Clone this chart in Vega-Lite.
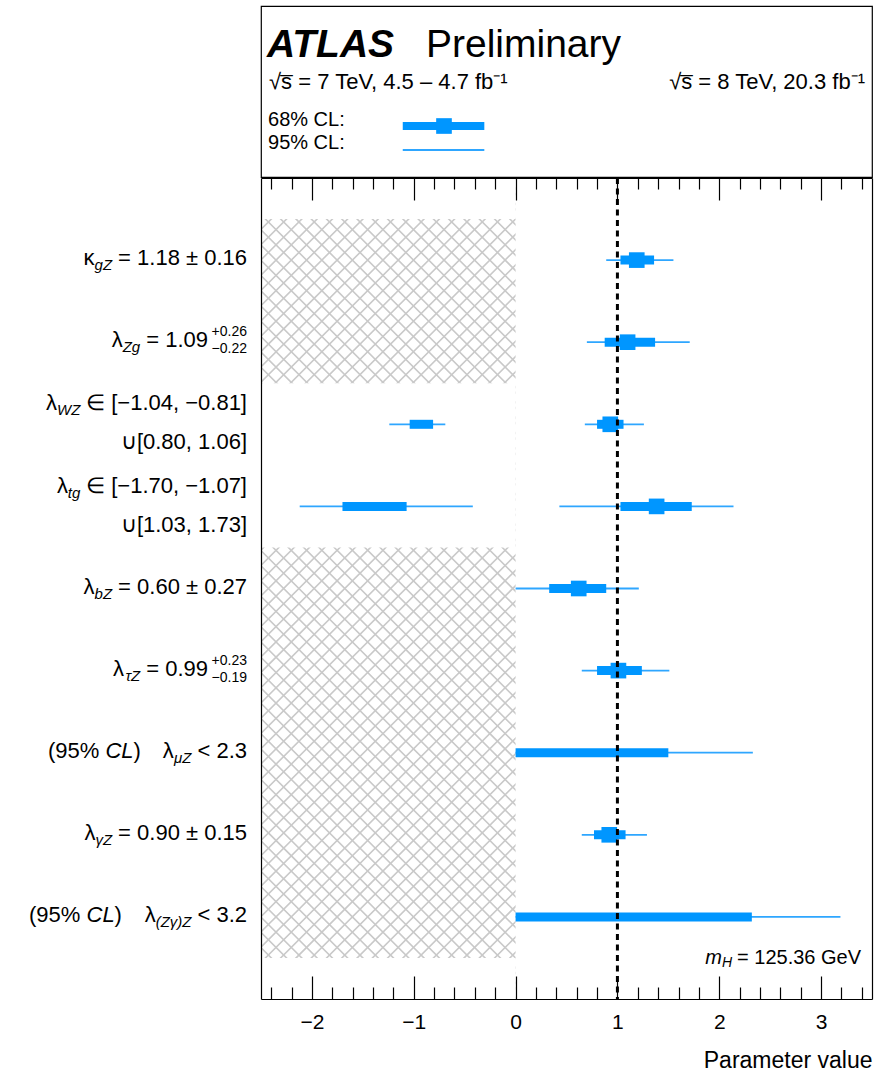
{
  "$schema": "https://vega.github.io/schema/vega-lite/v6.json",
  "autosize": {"type": "pad"},
  "padding": {"left": 28, "top": 5, "right": 2, "bottom": 2},
  "background": "white",
  "spacing": -4,
  "config": {
    "view": {"stroke": null},
    "font": "Liberation Sans",
    "text": {"font": "Liberation Sans", "color": "black"},
    "axis": {"labelFont": "Liberation Sans", "titleFont": "Liberation Sans", "grid": false}
  },
  "datasets": {
    "bars": [
      {"row": 1, "lo95": 0.89, "hi95": 1.55, "lo68": 1.03, "hi68": 1.36, "best": 1.19},
      {"row": 2, "lo95": 0.70, "hi95": 1.71, "lo68": 0.875, "hi68": 1.37, "best": 1.10},
      {"row": 3, "lo95": -1.24, "hi95": -0.69, "lo68": -1.04, "hi68": -0.81, "best": null},
      {"row": 3, "lo95": 0.68, "hi95": 1.26, "lo68": 0.80, "hi68": 1.06, "best": 0.93},
      {"row": 4, "lo95": -2.12, "hi95": -0.42, "lo68": -1.70, "hi68": -1.07, "best": null},
      {"row": 4, "lo95": 0.43, "hi95": 2.14, "lo68": 1.03, "hi68": 1.73, "best": 1.385},
      {"row": 5, "lo95": 0.0, "hi95": 1.21, "lo68": 0.33, "hi68": 0.89, "best": 0.62},
      {"row": 6, "lo95": 0.65, "hi95": 1.51, "lo68": 0.80, "hi68": 1.24, "best": 1.01},
      {"row": 7, "lo95": 0.0, "hi95": 2.33, "lo68": 0.0, "hi68": 1.50, "best": null},
      {"row": 8, "lo95": 0.65, "hi95": 1.29, "lo68": 0.77, "hi68": 1.08, "best": 0.92},
      {"row": 9, "lo95": 0.0, "hi95": 3.19, "lo68": 0.0, "hi68": 2.32, "best": null}
    ],
    "hatch": [
      {"x": -5.669, "y": 10.481, "x2": 3.169, "y2": -0.481},
      {"x": -5.669, "y": -0.481, "x2": 3.169, "y2": 10.481}
    ],
    "masks": [
      {"x": 0, "x2": 3.5, "y": 0, "y2": 10},
      {"x": -2.5, "x2": 0, "y": 0, "y2": 0.5},
      {"x": -2.5, "x2": 0, "y": 2.5, "y2": 4.5},
      {"x": -2.5, "x2": 0, "y": 9.5, "y2": 10}
    ],
    "labels": [
      {"kind": "main", "text": "= 1.18 ± 0.16", "x": -2.6375, "y": 1},
      {"kind": "sub", "text": "gZ", "x": -3.9622, "y": 1},
      {"kind": "sym", "text": "κ", "x": -4.1341, "y": 1},
      {"kind": "sup", "text": "+0.26", "x": -2.6375, "y": 2},
      {"kind": "lsub", "text": "−0.22", "x": -2.6375, "y": 2},
      {"kind": "main", "text": "= 1.09", "x": -3.0205, "y": 2},
      {"kind": "sub", "text": "Zg", "x": -3.6863, "y": 2},
      {"kind": "sym", "text": "λ", "x": -3.8581, "y": 2},
      {"kind": "main", "text": "∈ [−1.04, −0.81]", "x": -2.6375, "y": 2.765},
      {"kind": "sub", "text": "WZ", "x": -4.2736, "y": 2.765},
      {"kind": "sym", "text": "λ", "x": -4.5024, "y": 2.765},
      {"kind": "main", "text": "∪[0.80, 1.06]", "x": -2.6375, "y": 3.24},
      {"kind": "main", "text": "∈ [−1.70, −1.07]", "x": -2.6375, "y": 3.776},
      {"kind": "sub", "text": "tg", "x": -4.2736, "y": 3.776},
      {"kind": "sym", "text": "λ", "x": -4.3963, "y": 3.776},
      {"kind": "main", "text": "∪[1.03, 1.73]", "x": -2.6375, "y": 4.25},
      {"kind": "main", "text": "= 0.60 ± 0.27", "x": -2.6375, "y": 5},
      {"kind": "sub", "text": "bZ", "x": -3.9622, "y": 5},
      {"kind": "sym", "text": "λ", "x": -4.1341, "y": 5},
      {"kind": "sup", "text": "+0.23", "x": -2.6375, "y": 6},
      {"kind": "lsub", "text": "−0.19", "x": -2.6375, "y": 6},
      {"kind": "main", "text": "= 0.99", "x": -3.0205, "y": 6},
      {"kind": "sub", "text": "τZ", "x": -3.6863, "y": 6},
      {"kind": "sym", "text": "λ", "x": -3.8454, "y": 6},
      {"kind": "main", "text": "< 2.3", "x": -2.6375, "y": 7},
      {"kind": "sub", "text": "μZ", "x": -3.1825, "y": 7},
      {"kind": "sym", "text": "λ", "x": -3.3573, "y": 7},
      {"kind": "pre", "text": "(95%", "x": -4.5927, "y": 7},
      {"kind": "preit", "text": "CL", "x": -4.0280, "y": 7},
      {"kind": "pre", "text": ")", "x": -3.7521, "y": 7},
      {"kind": "main", "text": "= 0.90 ± 0.15", "x": -2.6375, "y": 8},
      {"kind": "sub", "text": "γZ", "x": -3.9622, "y": 8},
      {"kind": "sym", "text": "λ", "x": -4.1262, "y": 8},
      {"kind": "main", "text": "< 3.2", "x": -2.6375, "y": 9},
      {"kind": "sub", "text": "(Zγ)Z", "x": -3.1825, "y": 9},
      {"kind": "sym", "text": "λ", "x": -3.5341, "y": 9},
      {"kind": "pre", "text": "(95%", "x": -4.7783, "y": 9},
      {"kind": "preit", "text": "CL", "x": -4.2136, "y": 9},
      {"kind": "pre", "text": ")", "x": -3.9377, "y": 9},
      {"kind": "mh", "text": "= 125.36 GeV", "x": 3.3921, "y": 9.5},
      {"kind": "mhsub", "text": "H", "x": 2.1253, "y": 9.5},
      {"kind": "mhsym", "text": "m", "x": 2.0262, "y": 9.5}
    ],
    "htext": [
      {"kind": "atlas", "text": "ATLAS", "x": -2.441, "y": 0.30},
      {"kind": "big", "text": "Preliminary", "x": -0.880, "y": 0.30},
      {"kind": "energyL", "text": "√s̅ = 7 TeV, 4.5 – 4.7 fb⁻¹", "x": -2.421, "y": 0.485},
      {"kind": "energyR", "text": "√s̅ = 8 TeV, 20.3 fb⁻¹", "x": 3.431, "y": 0.485},
      {"kind": "leg", "text": "68% CL:", "x": -2.431, "y": 0.6655},
      {"kind": "leg", "text": "95% CL:", "x": -2.431, "y": 0.804}
    ],
    "hleg": [
      {"cl": "68%", "x": -1.108, "x2": -0.307, "y": 0.7018, "best": -0.703},
      {"cl": "95%", "x": -1.108, "x2": -0.307, "y": 0.842, "best": null}
    ]
  },
  "vconcat": [
    {
      "width": 611,
      "height": 171,
      "view": {"stroke": "black", "strokeWidth": 1.2},
      "encoding": {
        "x": {"field": "x", "type": "quantitative", "scale": {"domain": [-2.5, 3.5], "nice": false, "zero": false}, "axis": null},
        "y": {"field": "y", "type": "quantitative", "scale": {"domain": [0, 1], "reverse": true, "nice": false, "zero": false}, "axis": null}
      },
      "layer": [
        {
          "data": {"name": "htext"},
          "transform": [{"filter": "datum.kind == 'atlas'"}],
          "mark": {"type": "text", "align": "left", "baseline": "alphabetic", "fontSize": 39, "fontWeight": "bold", "fontStyle": "italic"},
          "encoding": {"text": {"field": "text"}}
        },
        {
          "data": {"name": "htext"},
          "transform": [{"filter": "datum.kind == 'big'"}],
          "mark": {"type": "text", "align": "left", "baseline": "alphabetic", "fontSize": 39},
          "encoding": {"text": {"field": "text"}}
        },
        {
          "data": {"name": "htext"},
          "transform": [{"filter": "datum.kind == 'energyL'"}],
          "mark": {"type": "text", "align": "left", "baseline": "alphabetic", "fontSize": 22},
          "encoding": {"text": {"field": "text"}}
        },
        {
          "data": {"name": "htext"},
          "transform": [{"filter": "datum.kind == 'energyR'"}],
          "mark": {"type": "text", "align": "right", "baseline": "alphabetic", "fontSize": 22},
          "encoding": {"text": {"field": "text"}}
        },
        {
          "data": {"name": "htext"},
          "transform": [{"filter": "datum.kind == 'leg'"}],
          "mark": {"type": "text", "align": "left", "baseline": "middle", "fontSize": 20},
          "encoding": {"text": {"field": "text"}}
        },
        {
          "data": {"name": "hleg"},
          "transform": [{"filter": "datum.cl == '95%'"}],
          "mark": {"type": "rule", "stroke": "#2ea6ff", "strokeWidth": 1.8},
          "encoding": {"x2": {"field": "x2"}}
        },
        {
          "data": {"name": "hleg"},
          "transform": [{"filter": "datum.cl == '68%'"}],
          "mark": {"type": "rule", "stroke": "#0096ff", "strokeWidth": 8},
          "encoding": {"x2": {"field": "x2"}}
        },
        {
          "data": {"name": "hleg"},
          "transform": [{"filter": "isValid(datum.best)"}],
          "mark": {"type": "point", "shape": "square", "filled": true, "size": 245, "color": "#0096ff", "opacity": 1},
          "encoding": {"x": {"field": "best", "type": "quantitative", "scale": {"domain": [-2.5, 3.5], "nice": false, "zero": false}, "axis": null}}
        }
      ]
    },
    {
      "width": 611,
      "height": 821,
      "resolve": {"axis": {"x": "independent", "y": "independent"}},
      "layer": [
        {
          "data": {"name": "hatch"},
          "mark": {"type": "rule", "clip": true, "stroke": "#c9c9c9", "strokeWidth": 800, "strokeDash": [1.6, 9.2]},
          "encoding": {
            "x": {"field": "x", "type": "quantitative", "scale": {"domain": [-2.5, 3.5], "nice": false, "zero": false},
              "axis": {"orient": "bottom", "values": [-2, -1, 0, 1, 2, 3], "tickSize": -23, "tickWidth": 1.2, "tickColor": "black", "domain": true, "domainColor": "black", "domainWidth": 1.2, "labelFontSize": 21, "labelColor": "black", "labelPadding": 35, "labelFlush": false, "title": "Parameter value", "titleFontSize": 23, "titleFontWeight": "normal", "titleColor": "black", "titleAnchor": "end", "titlePadding": 17, "zindex": 1}},
            "x2": {"field": "x2"},
            "y": {"field": "y", "type": "quantitative", "scale": {"domain": [0, 10], "reverse": true, "nice": false, "zero": false},
              "axis": {"orient": "left", "domain": true, "domainColor": "black", "domainWidth": 1.2, "ticks": false, "labels": false, "title": null, "zindex": 1}},
            "y2": {"field": "y2"}
          }
        },
        {
          "data": {"name": "masks"},
          "mark": {"type": "rect", "fill": "white", "stroke": null},
          "encoding": {
            "x": {"field": "x", "type": "quantitative",
              "axis": {"orient": "bottom", "values": [-2.4, -2.2, -1.8, -1.6, -1.4, -1.2, -0.8, -0.6, -0.4, -0.2, 0.2, 0.4, 0.6, 0.8, 1.2, 1.4, 1.6, 1.8, 2.2, 2.4, 2.6, 2.8, 3.2, 3.4], "tickSize": -12, "tickWidth": 1.2, "tickColor": "black", "domain": false, "labels": false, "title": null, "zindex": 1}},
            "x2": {"field": "x2"},
            "y": {"field": "y", "type": "quantitative",
              "axis": {"orient": "right", "domain": true, "domainColor": "black", "domainWidth": 1.2, "ticks": false, "labels": false, "title": null, "zindex": 1}},
            "y2": {"field": "y2"}
          }
        },
        {
          "data": {"name": "bars"},
          "mark": {"type": "rule", "stroke": "#2ea6ff", "strokeWidth": 1.8},
          "encoding": {
            "x": {"field": "lo95", "type": "quantitative",
              "axis": {"orient": "top", "values": [-2, -1, 0, 1, 2, 3], "tickSize": -22, "tickWidth": 1.2, "tickColor": "black", "domain": true, "domainColor": "black", "domainWidth": 1.2, "labels": false, "title": null, "zindex": 1}},
            "x2": {"field": "hi95"},
            "y": {"field": "row", "type": "quantitative", "axis": null}
          }
        },
        {
          "data": {"name": "bars"},
          "mark": {"type": "rule", "stroke": "#0096ff", "strokeWidth": 9},
          "encoding": {
            "x": {"field": "lo68", "type": "quantitative",
              "axis": {"orient": "top", "values": [-2.4, -2.2, -1.8, -1.6, -1.4, -1.2, -0.8, -0.6, -0.4, -0.2, 0.2, 0.4, 0.6, 0.8, 1.2, 1.4, 1.6, 1.8, 2.2, 2.4, 2.6, 2.8, 3.2, 3.4], "tickSize": -11, "tickWidth": 1.2, "tickColor": "black", "domain": false, "labels": false, "title": null, "zindex": 1}},
            "x2": {"field": "hi68"},
            "y": {"field": "row", "type": "quantitative", "axis": null}
          }
        },
        {
          "data": {"name": "bars"},
          "transform": [{"filter": "isValid(datum.best)"}],
          "mark": {"type": "point", "shape": "square", "filled": true, "size": 245, "color": "#0096ff", "opacity": 1},
          "encoding": {
            "x": {"field": "best", "type": "quantitative", "axis": null},
            "y": {"field": "row", "type": "quantitative", "axis": null}
          }
        },
        {
          "data": {"values": [{}]},
          "mark": {"type": "rule", "clip": true, "stroke": "black", "strokeWidth": 3, "strokeDash": [6, 4.5]},
          "encoding": {"x": {"datum": 1, "type": "quantitative", "axis": null}}
        },
        {
          "data": {"name": "labels"},
          "transform": [{"filter": "datum.kind == 'main'"}],
          "mark": {"type": "text", "align": "right", "baseline": "middle", "fontSize": 22, "dy": -2},
          "encoding": {"x": {"field": "x", "type": "quantitative", "axis": null}, "y": {"field": "y", "type": "quantitative", "axis": null}, "text": {"field": "text"}}
        },
        {
          "data": {"name": "labels"},
          "transform": [{"filter": "datum.kind == 'sym'"}],
          "mark": {"type": "text", "align": "right", "baseline": "middle", "fontSize": 22, "dy": -2},
          "encoding": {"x": {"field": "x", "type": "quantitative", "axis": null}, "y": {"field": "y", "type": "quantitative", "axis": null}, "text": {"field": "text"}}
        },
        {
          "data": {"name": "labels"},
          "transform": [{"filter": "datum.kind == 'sub'"}],
          "mark": {"type": "text", "align": "right", "baseline": "middle", "fontSize": 15, "fontStyle": "italic", "dy": 5},
          "encoding": {"x": {"field": "x", "type": "quantitative", "axis": null}, "y": {"field": "y", "type": "quantitative", "axis": null}, "text": {"field": "text"}}
        },
        {
          "data": {"name": "labels"},
          "transform": [{"filter": "datum.kind == 'sup'"}],
          "mark": {"type": "text", "align": "right", "baseline": "middle", "fontSize": 14, "dy": -10},
          "encoding": {"x": {"field": "x", "type": "quantitative", "axis": null}, "y": {"field": "y", "type": "quantitative", "axis": null}, "text": {"field": "text"}}
        },
        {
          "data": {"name": "labels"},
          "transform": [{"filter": "datum.kind == 'lsub'"}],
          "mark": {"type": "text", "align": "right", "baseline": "middle", "fontSize": 14, "dy": 7},
          "encoding": {"x": {"field": "x", "type": "quantitative", "axis": null}, "y": {"field": "y", "type": "quantitative", "axis": null}, "text": {"field": "text"}}
        },
        {
          "data": {"name": "labels"},
          "transform": [{"filter": "datum.kind == 'pre'"}],
          "mark": {"type": "text", "align": "left", "baseline": "middle", "fontSize": 22, "dy": -2},
          "encoding": {"x": {"field": "x", "type": "quantitative", "axis": null}, "y": {"field": "y", "type": "quantitative", "axis": null}, "text": {"field": "text"}}
        },
        {
          "data": {"name": "labels"},
          "transform": [{"filter": "datum.kind == 'preit'"}],
          "mark": {"type": "text", "align": "left", "baseline": "middle", "fontSize": 22, "fontStyle": "italic", "dy": -2},
          "encoding": {"x": {"field": "x", "type": "quantitative", "axis": null}, "y": {"field": "y", "type": "quantitative", "axis": null}, "text": {"field": "text"}}
        },
        {
          "data": {"name": "labels"},
          "transform": [{"filter": "datum.kind == 'mh'"}],
          "mark": {"type": "text", "align": "right", "baseline": "middle", "fontSize": 20},
          "encoding": {"x": {"field": "x", "type": "quantitative", "axis": null}, "y": {"field": "y", "type": "quantitative", "axis": null}, "text": {"field": "text"}}
        },
        {
          "data": {"name": "labels"},
          "transform": [{"filter": "datum.kind == 'mhsym'"}],
          "mark": {"type": "text", "align": "right", "baseline": "middle", "fontSize": 20, "fontStyle": "italic"},
          "encoding": {"x": {"field": "x", "type": "quantitative", "axis": null}, "y": {"field": "y", "type": "quantitative", "axis": null}, "text": {"field": "text"}}
        },
        {
          "data": {"name": "labels"},
          "transform": [{"filter": "datum.kind == 'mhsub'"}],
          "mark": {"type": "text", "align": "right", "baseline": "middle", "fontSize": 14, "fontStyle": "italic", "dy": 5},
          "encoding": {"x": {"field": "x", "type": "quantitative", "axis": null}, "y": {"field": "y", "type": "quantitative", "axis": null}, "text": {"field": "text"}}
        }
      ]
    }
  ]
}
